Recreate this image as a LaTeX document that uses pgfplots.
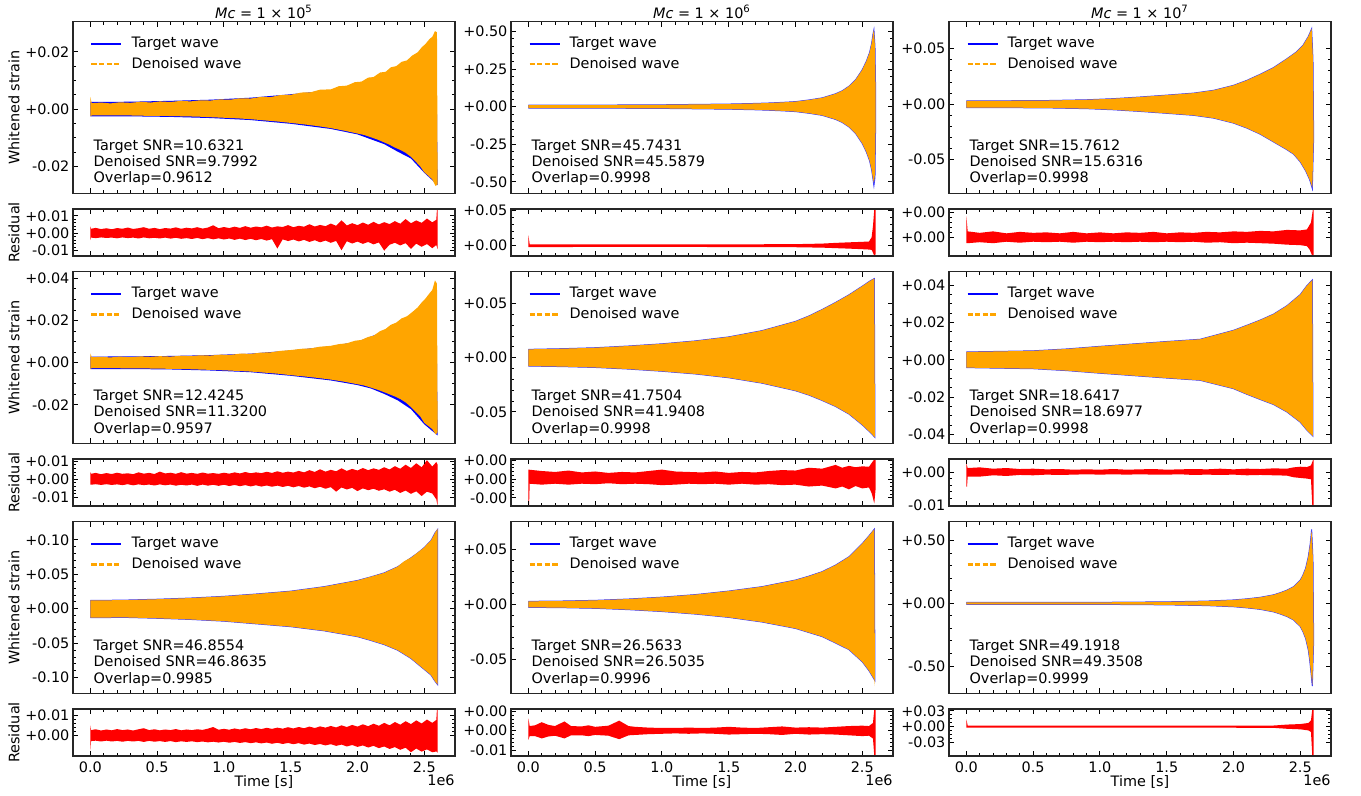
\documentclass[border=0pt]{standalone}
\usepackage{fontspec}
\setmainfont{DejaVu Sans}
\usepackage{pgfplots}
\pgfplotsset{compat=1.18}

\definecolor{tblue}{RGB}{0,0,255}
\definecolor{torange}{RGB}{255,165,0}
\definecolor{tred}{RGB}{255,0,0}
\newcommand{\fs}{\fontsize{7.2}{8.2}\selectfont}

\tikzset{stats/.style={anchor=south west, align=left, inner sep=0pt, font=\fs}}
\pgfplotsset{
  panel/.style={scale only axis, width=191pt, anchor=south west, clip mode=individual,
    xmin=-0.13, xmax=2.73, xtick={0,0.5,1,1.5,2,2.5}, minor x tick num=4,
    xticklabels={}, scaled ticks=false, tick align=inside,
    major tick length=2.5pt, minor tick length=1.5pt,
    every tick/.style={black, line width=0.45pt},
    axis line style={line width=0.6pt, black!85},
    tick label style={font=\fs},
    yticklabel style={inner sep=1.6pt},
    xticklabel style={anchor=north, inner sep=0pt, yshift=-3pt, text height=5.3pt, text depth=0pt},
    axis on top,
    every axis y label/.style={at={(axis description cs:-0.1545,0.5)}, rotate=90, anchor=center, font=\fs},
    every axis x label/.style={at={(axis description cs:0.5,0)}, anchor=center, yshift=-12.9pt, font=\fs},
    every axis title/.style={at={(axis description cs:0.5,1)}, anchor=center, yshift=4.85pt, font=\fs},
    legend style={draw=none, fill=none, font=\fs, at={(axis description cs:0,1)},
      anchor=north west, xshift=5.5pt, yshift=-3.9pt, row sep=0.5pt, column sep=3pt,
      nodes={inner sep=1.5pt}, cells={anchor=west}},
    legend image code/.code={\draw[#1] (0pt,0pt) -- (15pt,0pt);}},
  main/.style={panel, height=85.75pt},
  res/.style={panel, height=23.5pt},
  bottom/.style={xticklabels={0.0,0.5,1.0,1.5,2.0,2.5}, xlabel={Time [s]}},
  wavefill/.style={draw=none, fill=torange, forget plot},
  tgtfill/.style={draw=none, fill=tblue, forget plot},
  tgtedge/.style={draw=tblue!75!white, fill=tblue, line width=0.5pt, forget plot},
  resfill/.style={draw=none, fill=tred, forget plot},
}
\newcommand{\waveleg}{%
  \addlegendimage{tblue, line width=1.1pt}\addlegendentry{Target wave}
  \addlegendimage{torange, line width=1.1pt, dash pattern=on 2.6pt off 1.2pt}\addlegendentry{Denoised wave}}
\newcommand{\emark}{\node[anchor=east, font=\fs, inner sep=0pt] at (axis description cs:1,0) [yshift=-12.3pt] {1e6};}

\begin{document}
\begin{tikzpicture}
\useasboundingbox (0,0) rectangle (680.5pt,398pt);

% ===================== row 1 =====================
\begin{axis}[main, at={(36.5pt,301.4pt)}, ymin=-0.0293, ymax=0.0305,
  ytick={-0.02,0,0.02}, yticklabels={-0.02,+0.00,+0.02}, minor y tick num=3,
  ylabel={Whitened strain}, title={{\itshape Mc} = 1 × 10\textsuperscript{5}}]
\waveleg
\addplot[tgtfill] coordinates {(0,0.0025) (0.3,0.0026) (0.6,0.0029) (0.9,0.0033) (1.2,0.0040) (1.5,0.0052) (1.8,0.0066) (2.0,0.0085) (2.2,0.0120) (2.4,0.0170) (2.5,0.0210) (2.59,0.0250)
 (2.6,-0.0265) (2.5,-0.0222) (2.4,-0.0172) (2.3,-0.0148) (2.2,-0.0122) (2.0,-0.0088) (1.8,-0.0069) (1.5,-0.0051) (1.2,-0.0038) (0.9,-0.0031) (0.6,-0.0027) (0.3,-0.0025) (0,-0.0025)};
\addplot[wavefill] coordinates {(0,0.0043) (0.01,0.0021) (0.08,0.0023) (0.15,0.0020) (0.22,0.0024) (0.3,0.0022) (0.38,0.0026) (0.45,0.0023) (0.52,0.0027) (0.6,0.0025) (0.68,0.0029) (0.75,0.0027) (0.82,0.0031) (0.9,0.0030) (0.97,0.0034) (1.05,0.0033) (1.12,0.0038) (1.2,0.0037) (1.28,0.0043) (1.35,0.0042) (1.42,0.0049) (1.5,0.0050) (1.58,0.0058) (1.65,0.0059) (1.72,0.0068) (1.8,0.0069) (1.86,0.0080) (1.92,0.0082) (1.98,0.0094) (2.03,0.0096) (2.08,0.0110) (2.12,0.0112) (2.17,0.0128) (2.21,0.0130) (2.25,0.0146) (2.29,0.0150) (2.33,0.0165) (2.37,0.0170) (2.41,0.0187) (2.45,0.0198) (2.48,0.0215) (2.51,0.0228) (2.54,0.0245) (2.56,0.0252) (2.58,0.0272) (2.595,0.0268)
 (2.60,-0.0262) (2.585,-0.0268) (2.56,-0.0245) (2.53,-0.0232) (2.5,-0.0220) (2.47,-0.0200) (2.44,-0.0185) (2.4,-0.0166) (2.36,-0.0152) (2.32,-0.0142) (2.28,-0.0134) (2.24,-0.0124) (2.2,-0.0116) (2.15,-0.0106) (2.1,-0.0098) (2.05,-0.0090) (2.0,-0.0085) (1.9,-0.0075) (1.8,-0.0066) (1.7,-0.0059) (1.6,-0.0053) (1.5,-0.0048) (1.4,-0.0043) (1.3,-0.0039) (1.2,-0.0035) (1.1,-0.0032) (1.0,-0.0030) (0.9,-0.0028) (0.8,-0.0026) (0.7,-0.0025) (0.6,-0.0024) (0.5,-0.0023) (0.4,-0.0023) (0.3,-0.0022) (0.2,-0.0022) (0.1,-0.0022) (0.01,-0.0022) (0,-0.0025)};
\node[stats] at (axis description cs:0.053,0.04) {Target SNR=10.6321\\Denoised SNR=9.7992\\Overlap=0.9612};
\end{axis}

\begin{axis}[res, at={(36.5pt,270pt)}, ymin=-0.0131, ymax=0.014,
  ytick={-0.01,0,0.01}, yticklabels={-0.01,+0.00,+0.01}, minor y tick num=4, ylabel={Residual}]
\addplot[resfill] coordinates {(0,0.0040) (0.005,0.0026) (0.04,0.0031) (0.08,0.0024) (0.12,0.0029) (0.16,0.0023) (0.20,0.0030) (0.24,0.0026) (0.28,0.0033) (0.32,0.0025) (0.36,0.0029) (0.40,0.0035) (0.44,0.0026) (0.48,0.0031) (0.52,0.0024) (0.56,0.0030) (0.60,0.0027) (0.64,0.0034) (0.68,0.0026) (0.72,0.0032) (0.76,0.0028) (0.80,0.0035) (0.84,0.0027) (0.88,0.0033) (0.92,0.0046) (0.96,0.0029) (1.00,0.0036) (1.04,0.0030) (1.08,0.0038) (1.12,0.0031) (1.16,0.0041) (1.20,0.0032) (1.24,0.0039) (1.28,0.0034) (1.32,0.0044) (1.36,0.0033) (1.40,0.0040) (1.44,0.0036) (1.48,0.0047) (1.52,0.0035) (1.56,0.0043) (1.60,0.0038) (1.64,0.0052) (1.68,0.0039) (1.72,0.0048) (1.76,0.0041) (1.80,0.0056) (1.84,0.0043) (1.88,0.0075) (1.92,0.0045) (1.96,0.0058) (2.00,0.0047) (2.04,0.0062) (2.08,0.0049) (2.12,0.0066) (2.16,0.0051) (2.20,0.0064) (2.24,0.0053) (2.28,0.0070) (2.32,0.0055) (2.36,0.0082) (2.40,0.0058) (2.44,0.0074) (2.48,0.0060) (2.52,0.0085) (2.56,0.0063) (2.59,0.0078) (2.595,0.0140) (2.60,0.0140)
 (2.60,-0.0092) (2.59,-0.0068) (2.56,-0.0086) (2.52,-0.0062) (2.48,-0.0078) (2.44,-0.0060) (2.40,-0.0090) (2.36,-0.0057) (2.32,-0.0070) (2.28,-0.0055) (2.24,-0.0066) (2.20,-0.0100) (2.16,-0.0053) (2.12,-0.0064) (2.08,-0.0050) (2.04,-0.0061) (2.00,-0.0048) (1.96,-0.0059) (1.92,-0.0046) (1.88,-0.0098) (1.84,-0.0044) (1.80,-0.0055) (1.76,-0.0042) (1.72,-0.0052) (1.68,-0.0040) (1.64,-0.0050) (1.60,-0.0038) (1.56,-0.0047) (1.52,-0.0036) (1.48,-0.0045) (1.44,-0.0035) (1.40,-0.0088) (1.36,-0.0034) (1.32,-0.0042) (1.28,-0.0033) (1.24,-0.0040) (1.20,-0.0032) (1.16,-0.0039) (1.12,-0.0031) (1.08,-0.0038) (1.04,-0.0030) (1.00,-0.0036) (0.96,-0.0029) (0.92,-0.0035) (0.88,-0.0028) (0.84,-0.0034) (0.80,-0.0027) (0.76,-0.0033) (0.72,-0.0028) (0.68,-0.0032) (0.64,-0.0026) (0.60,-0.0031) (0.56,-0.0025) (0.52,-0.0030) (0.48,-0.0026) (0.44,-0.0029) (0.40,-0.0024) (0.36,-0.0030) (0.32,-0.0025) (0.28,-0.0028) (0.24,-0.0024) (0.20,-0.0029) (0.16,-0.0025) (0.12,-0.0027) (0.08,-0.0024) (0.04,-0.0028) (0.005,-0.0025) (0,-0.0040)};
\end{axis}

\begin{axis}[main, at={(255.5pt,301.4pt)}, ymin=-0.575, ymax=0.564,
  ytick={-0.5,-0.25,0,0.25,0.5}, yticklabels={-0.50,-0.25,+0.00,+0.25,+0.50}, minor y tick num=4,
  title={{\itshape Mc} = 1 × 10\textsuperscript{6}}]
\waveleg
\addplot[tgtedge] coordinates {(0,0.010) (0.5,0.010) (1.0,0.012) (1.3,0.015) (1.5,0.017) (1.7,0.021) (1.8,0.024) (1.9,0.028) (2.0,0.033) (2.1,0.044) (2.2,0.058) (2.3,0.085) (2.35,0.105) (2.4,0.135) (2.45,0.178) (2.5,0.245) (2.53,0.300) (2.555,0.360) (2.57,0.420) (2.58,0.480) (2.587,0.510) (2.595,0.40) (2.60,0.10)
 (2.60,-0.10) (2.595,-0.47) (2.587,-0.525) (2.58,-0.48) (2.57,-0.42) (2.555,-0.36) (2.53,-0.30) (2.5,-0.245) (2.45,-0.178) (2.4,-0.135) (2.35,-0.105) (2.3,-0.085) (2.2,-0.058) (2.1,-0.044) (2.0,-0.033) (1.9,-0.028) (1.8,-0.024) (1.7,-0.021) (1.5,-0.017) (1.3,-0.015) (1.0,-0.012) (0.5,-0.010) (0,-0.010)};
\addplot[wavefill] coordinates {(0,0.010) (0.5,0.010) (1.0,0.012) (1.3,0.015) (1.5,0.017) (1.7,0.021) (1.8,0.024) (1.9,0.028) (2.0,0.033) (2.1,0.044) (2.2,0.058) (2.3,0.085) (2.35,0.105) (2.4,0.135) (2.45,0.178) (2.5,0.245) (2.53,0.300) (2.555,0.360) (2.57,0.420) (2.58,0.480) (2.587,0.510) (2.595,0.40) (2.60,0.10)
 (2.60,-0.10) (2.595,-0.45) (2.587,-0.505) (2.58,-0.48) (2.57,-0.42) (2.555,-0.36) (2.53,-0.30) (2.5,-0.245) (2.45,-0.178) (2.4,-0.135) (2.35,-0.105) (2.3,-0.085) (2.2,-0.058) (2.1,-0.044) (2.0,-0.033) (1.9,-0.028) (1.8,-0.024) (1.7,-0.021) (1.5,-0.017) (1.3,-0.015) (1.0,-0.012) (0.5,-0.010) (0,-0.010)};
\node[stats] at (axis description cs:0.053,0.04) {Target SNR=45.7431\\Denoised SNR=45.5879\\Overlap=0.9998};
\end{axis}

\begin{axis}[res, at={(255.5pt,270pt)}, ymin=-0.0147, ymax=0.0524,
  ytick={0,0.05}, yticklabels={+0.00,+0.05}, minor y tick num=4]
\addplot[resfill] coordinates {(0,0.015) (0.01,0.0020) (0.5,0.0018) (1.0,0.0018) (1.5,0.0019) (2.0,0.0022) (2.2,0.0030) (2.3,0.0040) (2.4,0.0048) (2.5,0.0055) (2.55,0.0060) (2.57,0.012) (2.58,0.028) (2.59,0.0524) (2.6,0.0524)
 (2.6,-0.012) (2.59,-0.0147) (2.58,-0.010) (2.57,-0.006) (2.55,-0.0055) (2.5,-0.0050) (2.4,-0.0042) (2.3,-0.0035) (2.2,-0.0028) (2.0,-0.0022) (1.5,-0.0019) (1.0,-0.0018) (0.5,-0.0018) (0.01,-0.0020) (0,-0.0020)};
\end{axis}

\begin{axis}[main, at={(474.5pt,301.4pt)}, ymin=-0.0802, ymax=0.0744,
  ytick={-0.05,0,0.05}, yticklabels={-0.05,+0.00,+0.05}, minor y tick num=4,
  title={{\itshape Mc} = 1 × 10\textsuperscript{7}}]
\waveleg
\addplot[tgtedge] coordinates {(0,0.0030) (0.3,0.0031) (0.6,0.0033) (0.9,0.0040) (1.1,0.0050) (1.3,0.0065) (1.5,0.0082) (1.7,0.0100) (1.85,0.0125) (2.0,0.0170) (2.1,0.0215) (2.2,0.0270) (2.3,0.0330) (2.4,0.0410) (2.47,0.0470) (2.52,0.0530) (2.56,0.0610) (2.585,0.0680) (2.595,0.040)
 (2.6,-0.030) (2.59,-0.0760) (2.57,-0.068) (2.54,-0.060) (2.5,-0.052) (2.45,-0.045) (2.4,-0.041) (2.3,-0.034) (2.2,-0.027) (2.1,-0.0215) (2.0,-0.017) (1.85,-0.0125) (1.7,-0.0100) (1.5,-0.0082) (1.3,-0.0065) (1.1,-0.005) (0.9,-0.004) (0.6,-0.0033) (0.3,-0.0031) (0,-0.0030)};
\addplot[wavefill] coordinates {(0,0.0030) (0.3,0.0031) (0.6,0.0033) (0.9,0.0040) (1.1,0.0050) (1.3,0.0065) (1.5,0.0082) (1.7,0.0100) (1.85,0.0125) (2.0,0.0170) (2.1,0.0215) (2.2,0.0270) (2.3,0.0330) (2.4,0.0410) (2.47,0.0470) (2.52,0.0530) (2.56,0.0610) (2.585,0.0680) (2.595,0.040)
 (2.6,-0.030) (2.59,-0.0750) (2.57,-0.068) (2.54,-0.060) (2.5,-0.052) (2.45,-0.045) (2.4,-0.041) (2.3,-0.034) (2.2,-0.027) (2.1,-0.0215) (2.0,-0.017) (1.85,-0.0125) (1.7,-0.0100) (1.5,-0.0082) (1.3,-0.0065) (1.1,-0.005) (0.9,-0.004) (0.6,-0.0033) (0.3,-0.0031) (0,-0.0030)};
\node[stats] at (axis description cs:0.053,0.04) {Target SNR=15.7612\\Denoised SNR=15.6316\\Overlap=0.9998};
\end{axis}

\begin{axis}[res, at={(474.5pt,270pt)}, ymin=-0.0038, ymax=0.00575,
  ytick={0,0.005}, yticklabels={+0.00,+0.00}, minor y tick num=4]
\addplot[resfill] coordinates {(0,0.0043) (0.01,0.0012) (0.1,0.0009) (0.2,0.0012) (0.3,0.0008) (0.4,0.0011) (0.5,0.0009) (0.6,0.0010) (0.7,0.0008) (0.8,0.0011) (0.9,0.0008) (1.0,0.0010) (1.1,0.0008) (1.2,0.0010) (1.3,0.0009) (1.4,0.0011) (1.5,0.0008) (1.6,0.0010) (1.7,0.0009) (1.8,0.0011) (1.9,0.0010) (2.0,0.0012) (2.1,0.0011) (2.2,0.0013) (2.3,0.0012) (2.4,0.0015) (2.5,0.0014) (2.55,0.0016) (2.58,0.0030) (2.595,0.0058) (2.6,0.0058)
 (2.6,-0.0038) (2.59,-0.0038) (2.57,-0.0025) (2.55,-0.0018) (2.5,-0.0016) (2.4,-0.0015) (2.3,-0.0013) (2.2,-0.0012) (2.1,-0.0011) (2.0,-0.0012) (1.9,-0.0010) (1.8,-0.0011) (1.7,-0.0009) (1.6,-0.0010) (1.5,-0.0009) (1.4,-0.0010) (1.3,-0.0009) (1.2,-0.0010) (1.1,-0.0009) (1.0,-0.0010) (0.9,-0.0009) (0.8,-0.0011) (0.7,-0.0009) (0.6,-0.0010) (0.5,-0.0009) (0.4,-0.0011) (0.3,-0.0009) (0.2,-0.0012) (0.1,-0.0010) (0.01,-0.0012) (0,-0.0012)};
\end{axis}

% ===================== row 2 =====================
\begin{axis}[main, at={(36.5pt,176.35pt)}, ymin=-0.0382, ymax=0.0431,
  ytick={-0.02,0,0.02,0.04}, yticklabels={-0.02,+0.00,+0.02,+0.04}, minor y tick num=3,
  ylabel={Whitened strain}]
\waveleg
\addplot[tgtfill] coordinates {(0,0.0029) (0.3,0.0030) (0.6,0.0032) (0.9,0.0036) (1.2,0.0043) (1.5,0.0058) (1.8,0.0078) (2.0,0.0100) (2.2,0.0148) (2.4,0.0228) (2.5,0.0285) (2.59,0.0365)
 (2.6,-0.0345) (2.5,-0.0292) (2.4,-0.0220) (2.3,-0.0178) (2.2,-0.0148) (2.1,-0.0122) (2.0,-0.0106) (1.8,-0.0084) (1.5,-0.0062) (1.2,-0.0045) (0.9,-0.0037) (0.6,-0.0032) (0.3,-0.0030) (0,-0.0030)};
\addplot[wavefill] coordinates {(0,0.0044) (0.01,0.0026) (0.08,0.0028) (0.15,0.0025) (0.22,0.0029) (0.3,0.0026) (0.38,0.0030) (0.45,0.0028) (0.52,0.0031) (0.6,0.0029) (0.68,0.0033) (0.75,0.0031) (0.82,0.0035) (0.9,0.0034) (0.97,0.0038) (1.05,0.0037) (1.12,0.0043) (1.2,0.0042) (1.28,0.0048) (1.35,0.0049) (1.42,0.0056) (1.5,0.0060) (1.58,0.0066) (1.65,0.0068) (1.72,0.0076) (1.8,0.0080) (1.86,0.0088) (1.92,0.0092) (1.98,0.0104) (2.03,0.0108) (2.08,0.0122) (2.12,0.0128) (2.17,0.0150) (2.21,0.0160) (2.25,0.0180) (2.29,0.0190) (2.33,0.0210) (2.37,0.0220) (2.41,0.0240) (2.45,0.0262) (2.48,0.0285) (2.51,0.0305) (2.54,0.0330) (2.56,0.0345) (2.58,0.0390) (2.595,0.0375)
 (2.60,-0.0330) (2.585,-0.0340) (2.56,-0.0315) (2.53,-0.0300) (2.5,-0.0285) (2.47,-0.0255) (2.44,-0.0235) (2.4,-0.0210) (2.36,-0.0188) (2.32,-0.0172) (2.28,-0.0160) (2.24,-0.0150) (2.2,-0.0140) (2.15,-0.0128) (2.1,-0.0118) (2.05,-0.0108) (2.0,-0.0102) (1.9,-0.0090) (1.8,-0.0080) (1.7,-0.0072) (1.6,-0.0065) (1.5,-0.0059) (1.4,-0.0052) (1.3,-0.0047) (1.2,-0.0042) (1.1,-0.0039) (1.0,-0.0036) (0.9,-0.0034) (0.8,-0.0032) (0.7,-0.0030) (0.6,-0.0029) (0.5,-0.0028) (0.4,-0.0027) (0.3,-0.0027) (0.2,-0.0026) (0.1,-0.0026) (0.01,-0.0026) (0,-0.0030)};
\node[stats] at (axis description cs:0.053,0.04) {Target SNR=12.4245\\Denoised SNR=11.3200\\Overlap=0.9597};
\end{axis}

\begin{axis}[res, at={(36.5pt,145pt)}, ymin=-0.01467, ymax=0.01115,
  ytick={-0.01,0,0.01}, yticklabels={-0.01,+0.00,+0.01}, minor y tick num=4, ylabel={Residual}]
\addplot[resfill] coordinates {(0,0.0040) (0.005,0.0030) (0.04,0.0035) (0.08,0.0028) (0.12,0.0034) (0.16,0.0029) (0.20,0.0036) (0.24,0.0030) (0.28,0.0033) (0.32,0.0028) (0.36,0.0038) (0.40,0.0031) (0.44,0.0035) (0.48,0.0029) (0.52,0.0042) (0.56,0.0032) (0.60,0.0036) (0.64,0.0030) (0.68,0.0039) (0.72,0.0031) (0.76,0.0035) (0.80,0.0030) (0.84,0.0037) (0.88,0.0031) (0.92,0.0034) (0.96,0.0030) (1.00,0.0036) (1.04,0.0031) (1.08,0.0038) (1.12,0.0032) (1.16,0.0040) (1.20,0.0033) (1.24,0.0038) (1.28,0.0034) (1.32,0.0041) (1.36,0.0035) (1.40,0.0044) (1.44,0.0036) (1.48,0.0042) (1.52,0.0037) (1.56,0.0046) (1.60,0.0038) (1.64,0.0050) (1.68,0.0040) (1.72,0.0055) (1.76,0.0042) (1.80,0.0052) (1.84,0.0044) (1.88,0.0060) (1.92,0.0046) (1.96,0.0057) (2.00,0.0048) (2.04,0.0062) (2.08,0.0050) (2.12,0.0060) (2.16,0.0052) (2.20,0.0066) (2.24,0.0054) (2.28,0.0072) (2.32,0.0058) (2.36,0.0080) (2.40,0.0062) (2.44,0.0088) (2.48,0.0066) (2.52,0.0105) (2.56,0.0070) (2.59,0.0095) (2.60,0.0080)
 (2.60,-0.0147) (2.59,-0.0110) (2.56,-0.0078) (2.52,-0.0068) (2.48,-0.0092) (2.44,-0.0066) (2.40,-0.0080) (2.36,-0.0062) (2.32,-0.0075) (2.28,-0.0058) (2.24,-0.0068) (2.20,-0.0055) (2.16,-0.0063) (2.12,-0.0052) (2.08,-0.0060) (2.04,-0.0050) (2.00,-0.0065) (1.96,-0.0047) (1.92,-0.0056) (1.88,-0.0045) (1.84,-0.0068) (1.80,-0.0043) (1.76,-0.0052) (1.72,-0.0041) (1.68,-0.0049) (1.64,-0.0039) (1.60,-0.0046) (1.56,-0.0037) (1.52,-0.0044) (1.48,-0.0036) (1.44,-0.0042) (1.40,-0.0035) (1.36,-0.0041) (1.32,-0.0034) (1.28,-0.0040) (1.24,-0.0033) (1.20,-0.0039) (1.16,-0.0032) (1.12,-0.0038) (1.08,-0.0031) (1.04,-0.0037) (1.00,-0.0030) (0.96,-0.0036) (0.92,-0.0030) (0.88,-0.0035) (0.84,-0.0029) (0.80,-0.0036) (0.76,-0.0029) (0.72,-0.0034) (0.68,-0.0030) (0.64,-0.0035) (0.60,-0.0029) (0.56,-0.0033) (0.52,-0.0028) (0.48,-0.0034) (0.44,-0.0029) (0.40,-0.0032) (0.36,-0.0028) (0.32,-0.0033) (0.28,-0.0027) (0.24,-0.0032) (0.20,-0.0028) (0.16,-0.0031) (0.12,-0.0027) (0.08,-0.0031) (0.04,-0.0027) (0.005,-0.0030) (0,-0.0030)};
\end{axis}

\begin{axis}[main, at={(255.5pt,176.35pt)}, ymin=-0.079, ymax=0.0793,
  ytick={-0.05,0,0.05}, yticklabels={-0.05,+0.00,+0.05}, minor y tick num=4]
\waveleg
\addplot[tgtedge] coordinates {(0,0.0077) (0.25,0.0083) (0.5,0.0092) (0.75,0.0108) (1.0,0.0128) (1.25,0.0155) (1.5,0.0192) (1.75,0.0250) (2.0,0.0335) (2.1,0.0385) (2.2,0.0445) (2.3,0.0510) (2.4,0.0580) (2.5,0.0660) (2.56,0.0710) (2.59,0.0730)
 (2.595,-0.0735) (2.56,-0.0690) (2.5,-0.0620) (2.4,-0.0520) (2.3,-0.0450) (2.2,-0.0395) (2.1,-0.0345) (2.0,-0.0305) (1.75,-0.0235) (1.5,-0.0185) (1.25,-0.0150) (1.0,-0.0125) (0.75,-0.0105) (0.5,-0.0090) (0.25,-0.0082) (0,-0.0077)};
\addplot[wavefill] coordinates {(0,0.0077) (0.25,0.0083) (0.5,0.0092) (0.75,0.0108) (1.0,0.0128) (1.25,0.0155) (1.5,0.0192) (1.75,0.0250) (2.0,0.0335) (2.1,0.0385) (2.2,0.0445) (2.3,0.0510) (2.4,0.0580) (2.5,0.0660) (2.56,0.0710) (2.59,0.0730)
 (2.595,-0.0735) (2.56,-0.0690) (2.5,-0.0620) (2.4,-0.0520) (2.3,-0.0450) (2.2,-0.0395) (2.1,-0.0345) (2.0,-0.0305) (1.75,-0.0235) (1.5,-0.0185) (1.25,-0.0150) (1.0,-0.0125) (0.75,-0.0105) (0.5,-0.0090) (0.25,-0.0082) (0,-0.0077)};
\node[stats] at (axis description cs:0.053,0.04) {Target SNR=41.7504\\Denoised SNR=41.9408\\Overlap=0.9998};
\end{axis}

\begin{axis}[res, at={(255.5pt,145pt)}, ymin=-0.00574, ymax=0.00426,
  ytick={-0.004,0,0.004}, yticklabels={-0.00,+0.00,+0.00}, minor y tick num=4]
\addplot[resfill] coordinates {(0,0.0020) (0.1,0.0017) (0.2,0.0015) (0.3,0.0018) (0.4,0.0014) (0.5,0.0016) (0.6,0.0013) (0.7,0.0015) (0.8,0.0014) (0.9,0.0017) (1.0,0.0020) (1.1,0.0016) (1.2,0.0015) (1.3,0.0014) (1.4,0.0016) (1.5,0.0013) (1.6,0.0015) (1.7,0.0014) (1.8,0.0017) (1.9,0.0019) (2.0,0.0018) (2.1,0.0024) (2.2,0.0022) (2.3,0.0030) (2.35,0.0024) (2.4,0.0028) (2.45,0.0025) (2.5,0.0027) (2.55,0.0026) (2.59,0.0042) (2.6,0.0042)
 (2.6,-0.0020) (2.59,-0.0052) (2.57,-0.0030) (2.55,-0.0018) (2.5,-0.0020) (2.45,-0.0015) (2.4,-0.0022) (2.35,-0.0016) (2.3,-0.0020) (2.2,-0.0014) (2.1,-0.0016) (2.0,-0.0012) (1.9,-0.0013) (1.8,-0.0011) (1.7,-0.0012) (1.6,-0.0010) (1.5,-0.0012) (1.4,-0.0010) (1.3,-0.0011) (1.2,-0.0010) (1.1,-0.0012) (1.0,-0.0013) (0.9,-0.0011) (0.8,-0.0010) (0.7,-0.0011) (0.6,-0.0009) (0.5,-0.0011) (0.4,-0.0010) (0.3,-0.0012) (0.2,-0.0010) (0.1,-0.0012) (0.01,-0.0010) (0.005,-0.0058) (0,-0.0058)};
\end{axis}

\begin{axis}[main, at={(474.5pt,176.35pt)}, ymin=-0.0448, ymax=0.0472,
  ytick={-0.04,-0.02,0,0.02,0.04}, yticklabels={-0.04,-0.02,+0.00,+0.02,+0.04}, minor y tick num=3]
\waveleg
\addplot[tgtedge] coordinates {(0,0.0042) (0.25,0.0045) (0.5,0.0048) (0.75,0.0058) (1.0,0.0072) (1.25,0.0085) (1.5,0.0098) (1.75,0.0110) (2.0,0.0158) (2.1,0.0185) (2.2,0.0213) (2.3,0.0245) (2.4,0.0290) (2.5,0.0350) (2.55,0.0398) (2.59,0.0428)
 (2.595,-0.0410) (2.55,-0.0378) (2.5,-0.0335) (2.4,-0.0280) (2.3,-0.0240) (2.2,-0.0213) (2.1,-0.0185) (2.0,-0.0155) (1.75,-0.0110) (1.5,-0.0098) (1.25,-0.0085) (1.0,-0.0072) (0.75,-0.0058) (0.5,-0.0048) (0.25,-0.0045) (0,-0.0042)};
\addplot[wavefill] coordinates {(0,0.0042) (0.25,0.0045) (0.5,0.0048) (0.75,0.0058) (1.0,0.0072) (1.25,0.0085) (1.5,0.0098) (1.75,0.0110) (2.0,0.0158) (2.1,0.0185) (2.2,0.0213) (2.3,0.0245) (2.4,0.0290) (2.5,0.0350) (2.55,0.0398) (2.59,0.0428)
 (2.595,-0.0410) (2.55,-0.0378) (2.5,-0.0335) (2.4,-0.0280) (2.3,-0.0240) (2.2,-0.0213) (2.1,-0.0185) (2.0,-0.0155) (1.75,-0.0110) (1.5,-0.0098) (1.25,-0.0085) (1.0,-0.0072) (0.75,-0.0058) (0.5,-0.0048) (0.25,-0.0045) (0,-0.0042)};
\node[stats] at (axis description cs:0.053,0.04) {Target SNR=18.6417\\Denoised SNR=18.6977\\Overlap=0.9998};
\end{axis}

\begin{axis}[res, at={(474.5pt,145pt)}, ymin=-0.0103, ymax=0.00394,
  ytick={-0.01,0}, yticklabels={-0.01,+0.00}, minor y tick num=4]
\addplot[resfill] coordinates {(0,0.0026) (0.01,0.0012) (0.1,0.0014) (0.2,0.0010) (0.3,0.0012) (0.4,0.0009) (0.5,0.0010) (0.6,0.0008) (0.7,0.0009) (0.8,0.0007) (0.9,0.0008) (1.0,0.0007) (1.1,0.0009) (1.2,0.0007) (1.3,0.0008) (1.4,0.0009) (1.5,0.0007) (1.6,0.0008) (1.7,0.0009) (1.8,0.0008) (1.9,0.0010) (2.0,0.0008) (2.1,0.0010) (2.2,0.0009) (2.3,0.0011) (2.4,0.0010) (2.45,0.0014) (2.5,0.0016) (2.55,0.0015) (2.58,0.0020) (2.595,0.0036) (2.6,0.0036)
 (2.6,-0.0103) (2.59,-0.0103) (2.58,-0.0022) (2.55,-0.0020) (2.5,-0.0018) (2.45,-0.0016) (2.4,-0.0011) (2.3,-0.0010) (2.2,-0.0009) (2.1,-0.0010) (2.0,-0.0008) (1.9,-0.0009) (1.8,-0.0008) (1.7,-0.0009) (1.6,-0.0007) (1.5,-0.0008) (1.4,-0.0008) (1.3,-0.0007) (1.2,-0.0008) (1.1,-0.0007) (1.0,-0.0008) (0.9,-0.0007) (0.8,-0.0008) (0.7,-0.0009) (0.6,-0.0008) (0.5,-0.0010) (0.4,-0.0009) (0.3,-0.0012) (0.2,-0.0010) (0.1,-0.0014) (0.01,-0.0014) (0.005,-0.0044) (0,-0.0044)};
\end{axis}

% ===================== row 3 =====================
\begin{axis}[main, at={(36.5pt,51.35pt)}, ymin=-0.1226, ymax=0.1261,
  ytick={-0.1,-0.05,0,0.05,0.1}, yticklabels={-0.10,-0.05,+0.00,+0.05,+0.10}, minor y tick num=4,
  ylabel={Whitened strain}]
\waveleg
\addplot[tgtedge] coordinates {(0,0.0120) (0.25,0.0125) (0.5,0.0138) (0.75,0.0155) (1.0,0.0180) (1.25,0.0215) (1.5,0.0255) (1.75,0.0320) (2.0,0.0410) (2.1,0.0462) (2.2,0.0520) (2.3,0.0608) (2.4,0.0738) (2.45,0.0808) (2.5,0.0888) (2.55,0.0988) (2.58,0.1098) (2.6,0.1150)
 (2.6,-0.1100) (2.58,-0.1050) (2.55,-0.0960) (2.5,-0.0880) (2.45,-0.0800) (2.4,-0.0720) (2.3,-0.0600) (2.2,-0.0520) (2.1,-0.0460) (2.0,-0.0405) (1.75,-0.0320) (1.5,-0.0260) (1.25,-0.0220) (1.0,-0.0180) (0.75,-0.0155) (0.5,-0.0138) (0.25,-0.0125) (0,-0.0130)};
\addplot[wavefill] coordinates {(0,0.0120) (0.25,0.0125) (0.5,0.0138) (0.75,0.0155) (1.0,0.0180) (1.25,0.0215) (1.5,0.0255) (1.75,0.0320) (2.0,0.0410) (2.1,0.0465) (2.2,0.0520) (2.3,0.0610) (2.35,0.0690) (2.4,0.0740) (2.45,0.0815) (2.5,0.0890) (2.52,0.0935) (2.55,0.0990) (2.57,0.1060) (2.58,0.1100) (2.6,0.1160)
 (2.6,-0.1100) (2.58,-0.1050) (2.55,-0.0960) (2.5,-0.0880) (2.45,-0.0800) (2.4,-0.0720) (2.3,-0.0600) (2.2,-0.0520) (2.1,-0.0460) (2.0,-0.0405) (1.75,-0.0320) (1.5,-0.0260) (1.25,-0.0220) (1.0,-0.0180) (0.75,-0.0155) (0.5,-0.0138) (0.25,-0.0125) (0,-0.0130)};
\node[stats] at (axis description cs:0.053,0.04) {Target SNR=46.8554\\Denoised SNR=46.8635\\Overlap=0.9985};
\end{axis}

\begin{axis}[res, bottom, at={(36.5pt,20pt)}, ymin=-0.0098, ymax=0.0129,
  ytick={0,0.01}, yticklabels={+0.00,+0.01}, minor y tick num=4, ylabel={Residual}]
\addplot[resfill] coordinates {(0,0.0050) (0.005,0.0027) (0.04,0.0031) (0.08,0.0025) (0.12,0.0030) (0.16,0.0026) (0.20,0.0032) (0.24,0.0027) (0.28,0.0030) (0.32,0.0025) (0.36,0.0031) (0.40,0.0036) (0.44,0.0027) (0.48,0.0031) (0.52,0.0026) (0.56,0.0030) (0.60,0.0027) (0.64,0.0032) (0.68,0.0026) (0.72,0.0030) (0.76,0.0027) (0.80,0.0031) (0.84,0.0028) (0.88,0.0034) (0.92,0.0042) (0.96,0.0029) (1.00,0.0033) (1.04,0.0029) (1.08,0.0035) (1.12,0.0030) (1.16,0.0036) (1.20,0.0031) (1.24,0.0037) (1.28,0.0032) (1.32,0.0038) (1.36,0.0033) (1.40,0.0039) (1.44,0.0034) (1.48,0.0041) (1.52,0.0035) (1.56,0.0042) (1.60,0.0036) (1.64,0.0044) (1.68,0.0037) (1.72,0.0045) (1.76,0.0039) (1.80,0.0047) (1.84,0.0040) (1.88,0.0050) (1.92,0.0042) (1.96,0.0052) (2.00,0.0044) (2.04,0.0055) (2.08,0.0046) (2.12,0.0058) (2.16,0.0048) (2.20,0.0062) (2.24,0.0050) (2.28,0.0066) (2.32,0.0053) (2.36,0.0070) (2.40,0.0056) (2.44,0.0074) (2.48,0.0059) (2.52,0.0078) (2.56,0.0062) (2.59,0.0076) (2.595,0.0129) (2.60,0.0129)
 (2.60,-0.0082) (2.59,-0.0076) (2.56,-0.0080) (2.52,-0.0066) (2.48,-0.0077) (2.44,-0.0062) (2.40,-0.0080) (2.36,-0.0058) (2.32,-0.0068) (2.28,-0.0055) (2.24,-0.0064) (2.20,-0.0052) (2.16,-0.0060) (2.12,-0.0049) (2.08,-0.0057) (2.04,-0.0047) (2.00,-0.0054) (1.96,-0.0045) (1.92,-0.0052) (1.88,-0.0043) (1.84,-0.0049) (1.80,-0.0041) (1.76,-0.0047) (1.72,-0.0040) (1.68,-0.0045) (1.64,-0.0038) (1.60,-0.0043) (1.56,-0.0036) (1.52,-0.0041) (1.48,-0.0035) (1.44,-0.0040) (1.40,-0.0034) (1.36,-0.0039) (1.32,-0.0033) (1.28,-0.0037) (1.24,-0.0032) (1.20,-0.0036) (1.16,-0.0031) (1.12,-0.0035) (1.08,-0.0030) (1.04,-0.0034) (1.00,-0.0029) (0.96,-0.0033) (0.92,-0.0029) (0.88,-0.0032) (0.84,-0.0028) (0.80,-0.0031) (0.76,-0.0027) (0.72,-0.0030) (0.68,-0.0027) (0.64,-0.0031) (0.60,-0.0026) (0.56,-0.0030) (0.52,-0.0026) (0.48,-0.0029) (0.44,-0.0025) (0.40,-0.0030) (0.36,-0.0025) (0.32,-0.0028) (0.28,-0.0025) (0.24,-0.0029) (0.20,-0.0025) (0.16,-0.0028) (0.12,-0.0024) (0.08,-0.0028) (0.04,-0.0024) (0.005,-0.0026) (0,-0.0072)};
\emark
\end{axis}

\begin{axis}[main, at={(255.5pt,51.35pt)}, ymin=-0.0805, ymax=0.0747,
  ytick={-0.05,0,0.05}, yticklabels={-0.05,+0.00,+0.05}, minor y tick num=4]
\waveleg
\addplot[tgtedge] coordinates {(0,0.0027) (0.25,0.0030) (0.5,0.0036) (0.75,0.0048) (1.0,0.0065) (1.25,0.0088) (1.5,0.0120) (1.75,0.0160) (2.0,0.0220) (2.1,0.0255) (2.2,0.0296) (2.3,0.0355) (2.4,0.0430) (2.5,0.0550) (2.55,0.0620) (2.59,0.0680)
 (2.595,-0.0690) (2.59,-0.0680) (2.55,-0.0600) (2.5,-0.0520) (2.4,-0.0410) (2.3,-0.0350) (2.2,-0.0292) (2.1,-0.0255) (2.0,-0.0218) (1.75,-0.0160) (1.5,-0.0118) (1.25,-0.0088) (1.0,-0.0065) (0.75,-0.0048) (0.5,-0.0036) (0.25,-0.0030) (0,-0.0027)};
\addplot[wavefill] coordinates {(0,0.0027) (0.25,0.0030) (0.5,0.0036) (0.75,0.0048) (1.0,0.0065) (1.25,0.0088) (1.5,0.0120) (1.75,0.0160) (2.0,0.0220) (2.1,0.0255) (2.2,0.0296) (2.3,0.0355) (2.4,0.0430) (2.5,0.0550) (2.55,0.0620) (2.59,0.0680)
 (2.595,-0.0740) (2.59,-0.0680) (2.55,-0.0600) (2.5,-0.0520) (2.4,-0.0410) (2.3,-0.0350) (2.2,-0.0292) (2.1,-0.0255) (2.0,-0.0218) (1.75,-0.0160) (1.5,-0.0118) (1.25,-0.0088) (1.0,-0.0065) (0.75,-0.0048) (0.5,-0.0036) (0.25,-0.0030) (0,-0.0027)};
\node[stats] at (axis description cs:0.053,0.04) {Target SNR=26.5633\\Denoised SNR=26.5035\\Overlap=0.9996};
\end{axis}

\begin{axis}[res, bottom, at={(255.5pt,20pt)}, ymin=-0.00655, ymax=0.00562,
  ytick={-0.005,0,0.005}, yticklabels={-0.01,+0.00,+0.00}, minor y tick num=4]
\addplot[resfill] coordinates {(0,0.0032) (0.01,0.0012) (0.05,0.0014) (0.1,0.0022) (0.15,0.0015) (0.2,0.0012) (0.27,0.0024) (0.32,0.0012) (0.4,0.0011) (0.45,0.0014) (0.5,0.0010) (0.6,0.0013) (0.68,0.0026) (0.75,0.0012) (0.8,0.0010) (0.9,0.0008) (1.0,0.0007) (1.1,0.0007) (1.2,0.0008) (1.3,0.0007) (1.4,0.0008) (1.5,0.0010) (1.6,0.0008) (1.7,0.0007) (1.8,0.0009) (1.9,0.0011) (2.0,0.0008) (2.1,0.0009) (2.2,0.0008) (2.3,0.0010) (2.4,0.0012) (2.5,0.0013) (2.55,0.0012) (2.58,0.0020) (2.59,0.0056) (2.6,0.0056)
 (2.6,-0.0065) (2.59,-0.0065) (2.58,-0.0020) (2.55,-0.0013) (2.5,-0.0014) (2.4,-0.0012) (2.3,-0.0010) (2.2,-0.0009) (2.1,-0.0010) (2.0,-0.0008) (1.9,-0.0011) (1.8,-0.0009) (1.7,-0.0008) (1.6,-0.0009) (1.5,-0.0010) (1.4,-0.0008) (1.3,-0.0007) (1.2,-0.0008) (1.1,-0.0007) (1.0,-0.0008) (0.9,-0.0009) (0.8,-0.0011) (0.75,-0.0012) (0.68,-0.0022) (0.6,-0.0013) (0.5,-0.0011) (0.45,-0.0014) (0.4,-0.0012) (0.32,-0.0012) (0.27,-0.0020) (0.2,-0.0013) (0.15,-0.0015) (0.1,-0.0020) (0.05,-0.0014) (0.01,-0.0014) (0,-0.0024)};
\emark
\end{axis}

\begin{axis}[main, at={(474.5pt,51.35pt)}, ymin=-0.718, ymax=0.651,
  ytick={-0.5,0,0.5}, yticklabels={-0.50,+0.00,+0.50}, minor y tick num=4]
\waveleg
\addplot[tgtedge] coordinates {(0,0.008) (1.0,0.008) (1.5,0.012) (1.8,0.018) (2.0,0.027) (2.1,0.036) (2.2,0.048) (2.3,0.068) (2.35,0.085) (2.4,0.105) (2.45,0.133) (2.5,0.185) (2.52,0.226) (2.54,0.28) (2.56,0.372) (2.575,0.48) (2.585,0.59) (2.595,0.35)
 (2.6,-0.30) (2.59,-0.66) (2.58,-0.55) (2.57,-0.45) (2.56,-0.372) (2.54,-0.28) (2.52,-0.226) (2.5,-0.185) (2.45,-0.133) (2.4,-0.105) (2.35,-0.085) (2.3,-0.068) (2.2,-0.048) (2.1,-0.036) (2.0,-0.027) (1.8,-0.018) (1.5,-0.012) (1.0,-0.008) (0,-0.008)};
\addplot[wavefill] coordinates {(0,0.008) (1.0,0.008) (1.5,0.012) (1.8,0.018) (2.0,0.027) (2.1,0.036) (2.2,0.048) (2.3,0.068) (2.35,0.085) (2.4,0.105) (2.45,0.133) (2.5,0.185) (2.52,0.226) (2.54,0.28) (2.56,0.372) (2.575,0.48) (2.585,0.58) (2.595,0.35)
 (2.6,-0.30) (2.59,-0.65) (2.58,-0.55) (2.57,-0.45) (2.56,-0.372) (2.54,-0.28) (2.52,-0.226) (2.5,-0.185) (2.45,-0.133) (2.4,-0.105) (2.35,-0.085) (2.3,-0.068) (2.2,-0.048) (2.1,-0.036) (2.0,-0.027) (1.8,-0.018) (1.5,-0.012) (1.0,-0.008) (0,-0.008)};
\node[stats] at (axis description cs:0.053,0.04) {Target SNR=49.1918\\Denoised SNR=49.3508\\Overlap=0.9999};
\end{axis}

\begin{axis}[res, bottom, at={(474.5pt,20pt)}, ymin=-0.0556, ymax=0.0336,
  ytick={-0.03,0,0.03}, yticklabels={-0.03,+0.00,+0.03}, minor y tick num=3]
\addplot[resfill] coordinates {(0,0.014) (0.01,0.002) (1.0,0.0018) (2.0,0.002) (2.3,0.0022) (2.4,0.004) (2.5,0.005) (2.56,0.007) (2.58,0.012) (2.59,0.0336) (2.6,0.0336)
 (2.6,-0.0556) (2.59,-0.0556) (2.58,-0.010) (2.56,-0.007) (2.5,-0.005) (2.4,-0.004) (2.3,-0.0022) (2.0,-0.002) (1.0,-0.0018) (0.01,-0.002) (0,-0.002)};
\emark
\end{axis}

\end{tikzpicture}
\end{document}
